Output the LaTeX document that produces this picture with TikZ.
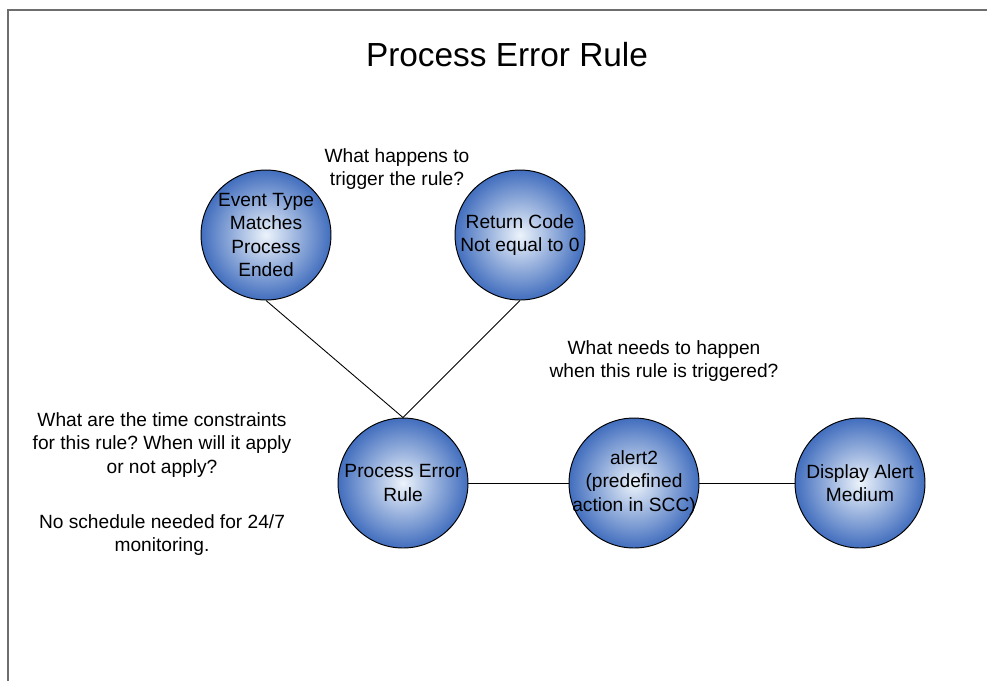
\documentclass[tikz,border=0pt]{standalone}
\usepackage{fontspec}
\setmainfont{Liberation Sans}
\usepackage{xcolor}
\usepackage{tikz}
\usetikzlibrary{shapes,calc}
\definecolor{ballEdge}{RGB}{66,110,190}
\definecolor{ballCore}{RGB}{236,243,251}
\definecolor{frameGray}{RGB}{110,110,110}
\frenchspacing
\tikzstyle{tsBody} = [ 
    text=black, 
    font=\fontsize{10.9pt}{13.4pt}\selectfont
]
\tikzstyle{tsNote} = [ 
    tsBody, 
    align=center,
    inner sep=0pt
]
\tikzstyle{tsTitle} = [ 
    text=black, 
    font=\fontsize{19pt}{23pt}\selectfont,
    inner sep=0pt
]
\tikzstyle{tsBall} = [ 
    circle,
    draw=black,
    line width=0.55pt,
    inner sep=0pt,
    minimum size=2.6cm,
    inner color=ballCore,
    outer color=ballEdge
]
\tikzstyle{tsLink} = [ 
    -,
    draw=black,
    line width=0.5pt
]

\begin{document}
\begin{tikzpicture} [x=0.02cm, y=-0.02cm]
        \useasboundingbox (0,0) rectangle (987,681);

        % Page frame
        \draw[frameGray, line width=0.03cm] (987,10) -- (8,10) -- (8,681);

        \node[tsTitle] (title) at (507,55) {Process Error Rule};

        % Trigger balls
        \node[  tsBall,
                label={[tsNote]center:{Event Type\\Matches\\Process\\Ended}}] (et) at (266,235) {};

        \node[  tsBall,
                label={[tsNote]center:{Return Code\\Not equal to 0}}] (rc) at (520,235) {};

        % Rule and action balls
        \node[  tsBall,
                label={[tsNote]center:{Process Error\\Rule}}] (per) at (403,483) {};

        \node[  tsBall,
                label={[tsNote]center:{alert2\\(predefined\\action in SCC)}}] (al) at (634,483) {};

        \node[  tsBall,
                label={[tsNote]center:{Display Alert\\Medium}}] (dam) at (860,483) {};

        % Lines between balls
        \draw[tsLink] (et.south) -- (per.north);
        \draw[tsLink] (rc.south) -- (per.north);
        \draw[tsLink] (per.east) -- (al.west);
        \draw[tsLink] (al.east) -- (dam.west);

        % Questions
        \node[tsNote] (qTrigger) at (397,169) {What happens to\\trigger the rule?};

        \node[tsNote] (qAction) at (664,361) {What needs to happen\\when this rule is triggered?};

        \node[tsNote] (qTime) at (162,484) {What are the time constraints\\for this rule? When will it apply\\or not apply?\\[0.62cm]No schedule needed for 24/7\\monitoring.};

    \end{tikzpicture}
\end{document}
